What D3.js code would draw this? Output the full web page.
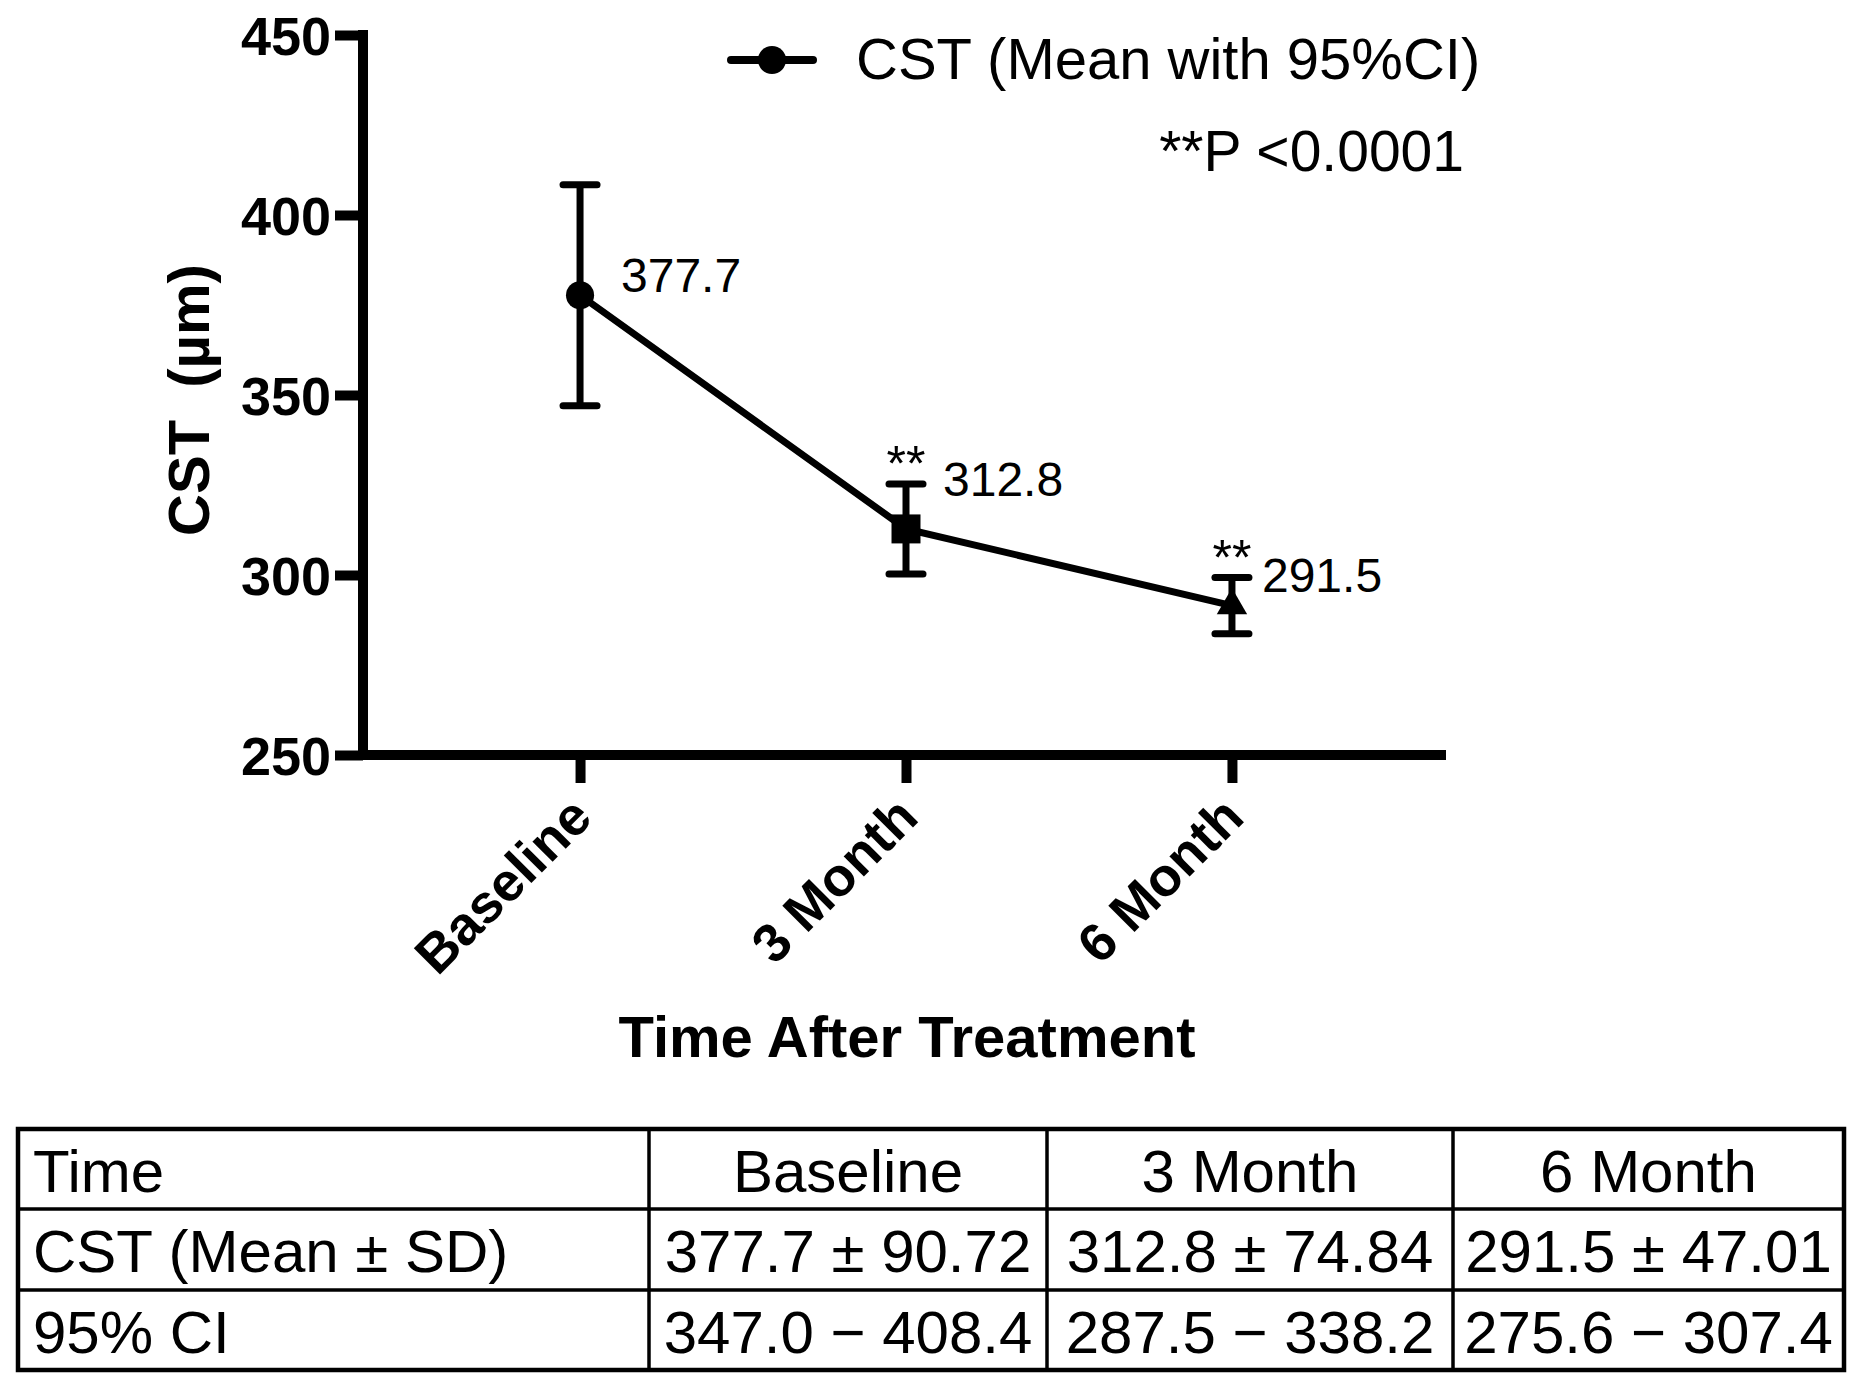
<!DOCTYPE html>
<html>
<head>
<meta charset="utf-8">
<script src="https://cdn.jsdelivr.net/npm/d3@7"></script>
<style>
  body { margin: 0; background: #fff; overflow: hidden; }
  text { font-family: "Liberation Sans", Arial, Helvetica, sans-serif; fill: #000; }
</style>
</head>
<body>
<svg id="chart"></svg>
<script>
// --- Dados ---
const categories = ["Baseline", "3 Month", "6 Month"];
const means = [377.7, 312.8, 291.5];
const barLow = [347.0, 300.3, 283.7];   // limites das barras de erro
const barHigh = [408.4, 325.3, 299.3];
const stars = ["", "**", "**"];
const sds = [90.72, 74.84, 47.01];
const ciLow = [347.0, 287.5, 275.6];
const ciHigh = [408.4, 338.2, 307.4];
const yTicks = [250, 300, 350, 400, 450];
const legendLabel = "CST (Mean with 95%CI)";
const pLabel = "**P <0.0001";

// --- Configurações ---
const W = 1862, H = 1387;
const symbols = [d3.symbolCircle, d3.symbolSquare, d3.symbolTriangle];
const symbolSizes = [620, 840, 400];
const labelOffsets = [[41, -3], [37, -33], [30, -14]]; // posição dos rótulos de valor

const svg = d3.select("#chart").attr("width", W).attr("height", H);
svg.append("rect").attr("width", W).attr("height", H).attr("fill", "#fff");

// --- Escalas ---
const x = d3.scalePoint().domain(categories).range([361, 1451]).padding(0.672);
const y = d3.scaleLinear().domain([250, 450]).range([755, 35]);

// --- Eixos ---
const yAxisG = svg.append("g").attr("transform", "translate(363,0)")
    .call(d3.axisLeft(y).tickValues(yTicks).tickSize(28).tickSizeOuter(0).tickPadding(4));
yAxisG.select(".domain").remove();
yAxisG.selectAll(".tick line").attr("stroke", "#000").attr("stroke-width", 10);
yAxisG.selectAll(".tick text")
    .style("font-size", "54px").style("font-weight", "bold").attr("dy", "0.36em");
yAxisG.append("line").attr("x1", 0).attr("x2", 0)
    .attr("y1", y(450) - 5).attr("y2", y(250) + 5)
    .attr("stroke", "#000").attr("stroke-width", 10);

const xAxisG = svg.append("g").attr("transform", `translate(0,${y(250)})`)
    .call(d3.axisBottom(x).tickSize(28).tickSizeOuter(0));
xAxisG.select(".domain").remove();
xAxisG.selectAll(".tick line").attr("stroke", "#000").attr("stroke-width", 10);
xAxisG.selectAll(".tick text")
    .attr("x", 0).attr("y", 0).attr("dy", 0)
    .attr("text-anchor", "end")
    .attr("transform", "translate(14,65) rotate(-45)")
    .style("font-size", "54px").style("font-weight", "bold");
xAxisG.append("line").attr("x1", 358).attr("x2", 1446).attr("y1", 0).attr("y2", 0)
    .attr("stroke", "#000").attr("stroke-width", 10);

// Títulos dos eixos
svg.append("text")
    .attr("transform", "translate(209,400) rotate(-90)")
    .attr("text-anchor", "middle")
    .style("white-space", "pre")
    .style("font-size", "58px").style("font-weight", "bold")
    .text("CST  (µm)");

svg.append("text")
    .attr("x", 907).attr("y", 1057)
    .attr("text-anchor", "middle")
    .style("font-size", "58px").style("font-weight", "bold")
    .text("Time After Treatment");

// --- Série ---
const data = categories.map((c, i) => ({
    cat: c, mean: means[i], lo: barLow[i], hi: barHigh[i], star: stars[i], i
}));

const plot = svg.append("g");

plot.append("path")
    .datum(data)
    .attr("fill", "none").attr("stroke", "#000").attr("stroke-width", 7)
    .attr("d", d3.line().x(d => x(d.cat)).y(d => y(d.mean)));

const bars = plot.selectAll(".err").data(data).enter().append("g").attr("class", "err");
bars.append("line")
    .attr("x1", d => x(d.cat)).attr("x2", d => x(d.cat))
    .attr("y1", d => y(d.hi)).attr("y2", d => y(d.lo))
    .attr("stroke", "#000").attr("stroke-width", 7);
["hi", "lo"].forEach(k => {
    bars.append("line")
        .attr("x1", d => x(d.cat) - 17).attr("x2", d => x(d.cat) + 17)
        .attr("y1", d => y(d[k])).attr("y2", d => y(d[k]))
        .attr("stroke", "#000").attr("stroke-width", 7).attr("stroke-linecap", "round");
});

plot.selectAll(".pt").data(data).enter().append("path")
    .attr("class", "pt")
    .attr("transform", d => `translate(${x(d.cat)},${y(d.mean)})`)
    .attr("d", d => d3.symbol().type(symbols[d.i]).size(symbolSizes[d.i])())
    .attr("fill", "#000");

// Rótulos de valor
plot.selectAll(".val").data(data).enter().append("text")
    .attr("x", d => x(d.cat) + labelOffsets[d.i][0])
    .attr("y", d => y(d.mean) + labelOffsets[d.i][1])
    .style("font-size", "48px")
    .text(d => d.mean.toFixed(1));

// Asteriscos de significância
plot.selectAll(".star").data(data.filter(d => d.star)).enter().append("text")
    .attr("x", d => x(d.cat))
    .attr("y", d => y(d.hi) - 3)
    .attr("text-anchor", "middle")
    .style("font-size", "50px")
    .text(d => d.star);

// --- Legenda ---
const legend = svg.append("g");
legend.append("line").attr("x1", 731).attr("x2", 813).attr("y1", 60).attr("y2", 60)
    .attr("stroke", "#000").attr("stroke-width", 8).attr("stroke-linecap", "round");
legend.append("circle").attr("cx", 772).attr("cy", 60).attr("r", 14).attr("fill", "#000");
legend.append("text").attr("x", 856).attr("y", 79)
    .style("font-size", "58px").text(legendLabel);
svg.append("text").attr("x", 1464).attr("y", 171).attr("text-anchor", "end")
    .style("font-size", "57px").text(pLabel);

// --- Tabela ---
const colX = [18, 649, 1047, 1453, 1844];
const rowY = [1129, 1209, 1290, 1370];
const tableRows = [
    ["Time", ...categories],
    ["CST (Mean ± SD)", ...means.map((m, i) => `${m.toFixed(1)} ± ${sds[i].toFixed(2)}`)],
    ["95% CI", ...ciLow.map((l, i) => `${l.toFixed(1)} − ${ciHigh[i].toFixed(1)}`)]
];

const table = svg.append("g");
rowY.slice(1, -1).forEach(yy => {
    table.append("line").attr("x1", colX[0]).attr("x2", colX[4]).attr("y1", yy).attr("y2", yy)
        .attr("stroke", "#000").attr("stroke-width", 3.5);
});
colX.slice(1, -1).forEach(xx => {
    table.append("line").attr("x1", xx).attr("x2", xx).attr("y1", rowY[0]).attr("y2", rowY[3])
        .attr("stroke", "#000").attr("stroke-width", 3.5);
});
table.append("rect")
    .attr("x", colX[0]).attr("y", rowY[0])
    .attr("width", colX[4] - colX[0]).attr("height", rowY[3] - rowY[0])
    .attr("fill", "none").attr("stroke", "#000").attr("stroke-width", 4.5);

tableRows.forEach((row, r) => {
    row.forEach((cell, c) => {
        table.append("text")
            .attr("x", c === 0 ? colX[0] + 15 : (colX[c] + colX[c + 1]) / 2)
            .attr("y", rowY[r] + 63)
            .attr("text-anchor", c === 0 ? "start" : "middle")
            .style("font-size", "60px")
            .text(cell);
    });
});
</script>
</body>
</html>
